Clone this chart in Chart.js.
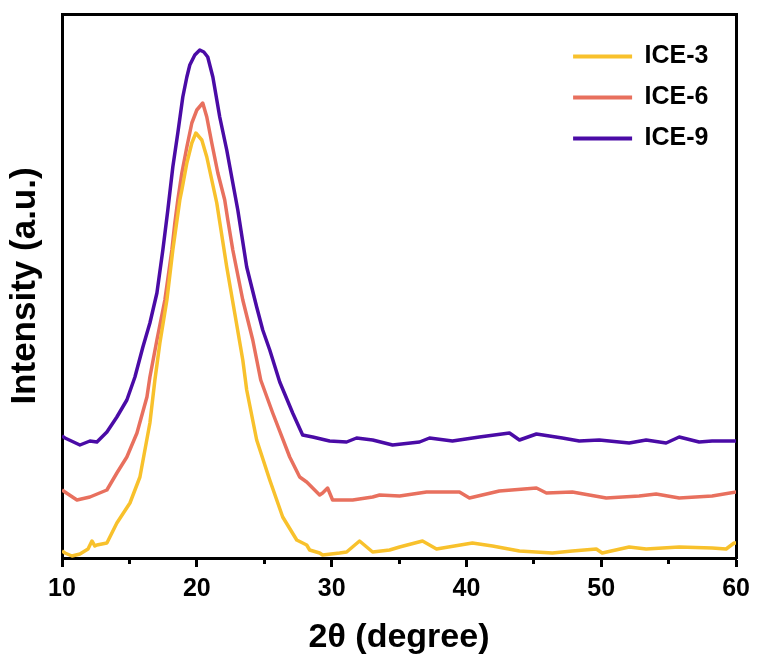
<!DOCTYPE html>
<html lang="en">
<head>
    <meta charset="UTF-8">
    <title>XRD patterns ICE-3 / ICE-6 / ICE-9</title>
    <script src="https://cdn.jsdelivr.net/npm/chart.js"></script>
    <style>
        body {
            margin: 0;
            background: #fff;
        }
        #wrap {
            width: 757px;
            height: 664px;
        }
    </style>
</head>
<body>
    <div id="wrap">
        <canvas id="xrdChart" width="757" height="664"></canvas>
    </div>

    <script>
        // 2θ (degree) and intensity (a.u.), one pair of arrays per sample
        const ice3Theta = [10.00, 10.22, 10.74, 11.33, 11.93, 12.22, 12.44, 12.59, 13.33, 14.07, 15.04, 15.78, 16.52, 16.89,
            17.26, 17.78, 18.22, 18.74, 18.89, 19.26, 19.63, 19.93, 20.37, 20.74, 21.11, 21.48, 21.70, 22.22, 22.81,
            23.41, 23.70, 24.44, 25.41, 26.37, 27.41, 28.15, 28.37, 29.11, 29.33, 30.59, 31.11, 32.07, 33.04, 34.30,
            35.04, 36.74, 37.78, 40.44, 41.93, 43.93, 46.37, 47.85, 49.63, 50.07, 52.07, 53.33, 55.78, 58.22, 59.26,
            59.85, 60.00];
        const ice3Intensity = [7, 5, 2, 4, 9, 17, 12, 13, 15, 35, 55, 81, 135, 178,
            215, 258, 308, 358, 368, 395, 415, 425, 418, 401, 378, 355, 336, 291, 245,
            198, 168, 118, 78, 41, 18, 13, 8, 5, 3, 5, 6, 17, 6, 8,
            11, 17, 9, 15, 12, 7, 5, 7, 9, 5, 11, 9, 11, 10, 9,
            15, 15];

        const ice6Theta = [10.00, 10.22, 11.11, 12.07, 13.33, 14.07, 14.81, 15.56, 16.30, 16.52, 17.04, 17.63, 18.15,
            18.37, 18.59, 18.89, 19.26, 19.63, 20.00, 20.44, 20.74, 21.11, 21.56, 22.07, 22.30, 22.67, 23.41, 24.15,
            24.74, 25.63, 26.89, 27.63, 28.15, 29.11, 29.33, 29.70, 30.07, 31.56, 33.04, 33.56, 35.04, 37.04, 39.48,
            40.22, 42.44, 45.19, 45.93, 47.85, 50.37, 52.81, 54.07, 55.78, 58.22, 60.00];
        const ice6Intensity = [68, 66, 58, 61, 68, 85, 101, 125, 161, 181, 218, 258, 308,
            335, 358, 385, 411, 435, 448, 455, 441, 415, 385, 358, 338, 308, 258, 218,
            178, 145, 101, 81, 76, 63, 65, 70, 58, 58, 61, 63, 62, 66, 66,
            60, 67, 70, 65, 66, 60, 62, 64, 60, 62, 66];

        const ice9Theta = [10.00, 10.22, 11.33, 12.07, 12.59, 13.33, 14.07, 14.81, 15.41, 16.00, 16.52, 17.04, 17.48,
            17.85, 18.22, 18.59, 18.96, 19.26, 19.48, 19.85, 20.22, 20.52, 20.81, 21.19, 21.70, 22.22, 22.67, 23.04,
            23.70, 24.44, 24.89, 25.41, 26.15, 27.11, 27.85, 28.59, 29.85, 31.11, 31.85, 33.04, 34.52, 36.52, 37.26,
            38.96, 40.96, 43.19, 43.93, 45.19, 47.11, 48.37, 49.85, 52.07, 53.33, 54.81, 55.78, 57.26, 58.22, 60.00];
        const ice9Intensity = [122, 120, 113, 117, 116, 126, 141, 158, 181, 211, 235, 265, 308,
            348, 391, 425, 461, 481, 493, 503, 508, 506, 501, 481, 441, 408, 375, 348,
            291, 251, 228, 208, 176, 145, 123, 121, 117, 116, 120, 118, 113, 116, 120,
            117, 121, 125, 118, 124, 120, 117, 118, 115, 118, 115, 121, 116, 117, 117];

        const sampleNames = ['ICE-3', 'ICE-6', 'ICE-9'];
        const sampleColors = ['#F8C12C', '#E8705E', '#4A0BA6'];
        const xTickValues = [10, 20, 30, 40, 50, 60];
        const xMinorTickValues = [15, 25, 35, 45, 55];

        const FONT = 'Arial, "Liberation Sans", sans-serif';
        Chart.defaults.font.family = FONT;
        Chart.defaults.color = '#000';

        function toPoints(xs, ys) {
            return xs.map((x, i) => ({ x: x, y: ys[i] }));
        }

        const seriesData = [
            toPoints(ice3Theta, ice3Intensity),
            toPoints(ice6Theta, ice6Intensity),
            toPoints(ice9Theta, ice9Intensity)
        ];

        // move the legend into the upper right corner of the plot
        const legendCorner = {
            id: 'legendCorner',
            afterLayout(chart) {
                const lg = chart.legend;
                const area = chart.chartArea;
                lg.left = area.right - 179;
                lg.right = area.right;
                lg.top = area.top + 14;
                lg.bottom = area.top + 300;
                lg.width = lg.right - lg.left;
                lg.height = lg.bottom - lg.top;
            }
        };

        const ctx = document.getElementById('xrdChart').getContext('2d');
        new Chart(ctx, {
            type: 'line',
            data: {
                datasets: sampleNames.map((name, i) => ({
                    label: name,
                    data: seriesData[i],
                    borderColor: sampleColors[i],
                    backgroundColor: sampleColors[i],
                    borderWidth: 3.5,
                    borderJoinStyle: 'round',
                    pointRadius: 0,
                    tension: 0,
                    fill: false,
                    xAxisID: 'x',
                    yAxisID: 'y'
                }))
            },
            options: {
                responsive: false,
                animation: false,
                layout: {
                    padding: { top: 14, right: 20, bottom: 0, left: 0 }
                },
                plugins: {
                    tooltip: { enabled: false },
                    legend: {
                        position: 'chartArea',
                        align: 'start',
                        labels: {
                            font: { size: 25, weight: 'bold' },
                            color: '#000',
                            boxWidth: 59,
                            boxHeight: 4,
                            padding: 16,
                            generateLabels: chart => Chart.defaults.plugins.legend.labels.generateLabels(chart)
                                .map(item => ({ ...item, fillStyle: item.strokeStyle, lineWidth: 0 }))
                        }
                    }
                },
                scales: {
                    // minor ticks only; zero height so it sits right on the bottom edge
                    xMinor: {
                        type: 'linear',
                        position: 'bottom',
                        weight: -1,
                        min: 10,
                        max: 60,
                        afterBuildTicks: scale => {
                            scale.ticks = xMinorTickValues.map(v => ({ value: v }));
                        },
                        ticks: { display: false },
                        grid: { drawOnChartArea: false, tickLength: 6, tickWidth: 3, color: '#000' },
                        border: { display: false },
                        afterFit: scale => { scale.height = 0; }
                    },
                    x: {
                        type: 'linear',
                        position: 'bottom',
                        weight: 1,
                        min: 10,
                        max: 60,
                        afterBuildTicks: scale => {
                            scale.ticks = xTickValues.map(v => ({ value: v }));
                        },
                        ticks: {
                            font: { size: 25, weight: 'bold' },
                            color: '#000',
                            padding: 7,
                            maxRotation: 0
                        },
                        grid: { drawOnChartArea: false, tickLength: 9, tickWidth: 3, color: '#000' },
                        border: { display: true, width: 3, color: '#000' },
                        title: {
                            display: true,
                            text: '2θ (degree)',
                            font: { size: 34, weight: 'bold' },
                            color: '#000',
                            padding: { top: 0, bottom: 6 }
                        },
                        afterFit: scale => { scale.height = 106; }
                    },
                    xTop: {
                        type: 'linear',
                        position: 'top',
                        min: 10,
                        max: 60,
                        ticks: { display: false },
                        grid: { display: false },
                        border: { display: true, width: 3, color: '#000' },
                        afterFit: scale => { scale.height = 0; }
                    },
                    y: {
                        type: 'linear',
                        position: 'left',
                        min: 0,
                        max: 544,
                        ticks: { display: false },
                        grid: { display: false },
                        border: { display: true, width: 3, color: '#000' },
                        title: {
                            display: true,
                            text: 'Intensity (a.u.)',
                            font: { size: 35, weight: 'bold' },
                            color: '#000',
                            padding: { top: 4, bottom: 0 }
                        },
                        afterFit: scale => { scale.width = 62; }
                    },
                    yRight: {
                        type: 'linear',
                        position: 'right',
                        min: 0,
                        max: 544,
                        ticks: { display: false },
                        grid: { display: false },
                        border: { display: true, width: 3, color: '#000' },
                        afterFit: scale => { scale.width = 0; }
                    }
                }
            },
            plugins: [legendCorner]
        });
    </script>
</body>
</html>
